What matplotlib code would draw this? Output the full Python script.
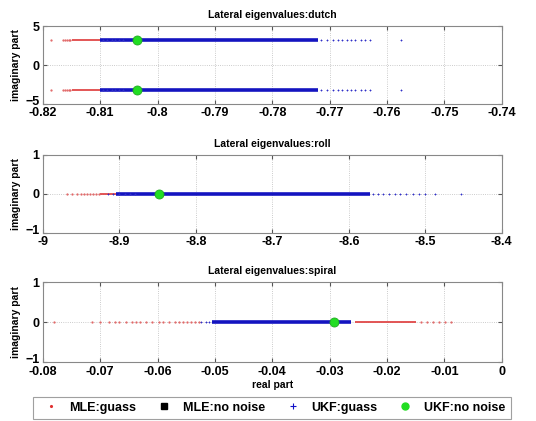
import matplotlib
matplotlib.use("Agg")
import matplotlib.pyplot as plt
import matplotlib.transforms as mtransforms

# ---------------- data ----------------
titles = ["Lateral eigenvalues:dutch", "Lateral eigenvalues:roll", "Lateral eigenvalues:spiral"]
xlims = [(-0.82, -0.74), (-9.0, -8.4), (-0.08, 0.0)]
xticks = [[-0.82, -0.81, -0.80, -0.79, -0.78, -0.77, -0.76, -0.75, -0.74],
          [-9.0, -8.9, -8.8, -8.7, -8.6, -8.5, -8.4],
          [-0.08, -0.07, -0.06, -0.05, -0.04, -0.03, -0.02, -0.01, 0.0]]
xticklabels = [["-0.82", "-0.81", "-0.8", "-0.79", "-0.78", "-0.77", "-0.76", "-0.75", "-0.74"],
               ["-9", "-8.9", "-8.8", "-8.7", "-8.6", "-8.5", "-8.4"],
               ["-0.08", "-0.07", "-0.06", "-0.05", "-0.04", "-0.03", "-0.02", "-0.01", "0"]]
ylims = [(-5, 5), (-1, 1), (-1, 1)]
yticks = [[-5, 0, 5], [-1, 0, 1], [-1, 0, 1]]

# imaginary parts of each mode
imag_parts = [[3.2, -3.2], [0.0], [0.0]]

# MLE:guass  - dense band (start, end) and sparse points (real part)
mle_band = [(-0.8150, -0.8100), (-8.925, -8.905), (-0.0255, -0.0150)]
mle_sparse = [
    [-0.8185, -0.8165, -0.8162, -0.8158, -0.8154, -0.8152],
    [-8.968, -8.962, -8.955, -8.950, -8.946, -8.942, -8.938, -8.934, -8.930, -8.927],
    [-0.0780, -0.0715, -0.0700, -0.0685, -0.0675, -0.0668, -0.0655, -0.0645, -0.0638,
     -0.0630, -0.0620, -0.0610, -0.0598, -0.0590, -0.0580, -0.0570, -0.0562, -0.0555,
     -0.0548, -0.0542, -0.0535, -0.0528, -0.0140, -0.0130, -0.0120, -0.0110, -0.0098, -0.0088],
]
# UKF:guass - dense band (start, end) and sparse points (real part)
ukf_band = [(-0.8100, -0.7720), (-8.905, -8.572), (-0.0505, -0.0262)]
ukf_sparse = [
    [-0.8095, -0.8088, -0.8080, -0.8075, -0.8068, -0.8060, -0.7715, -0.7705, -0.7695,
     -0.7685, -0.7678, -0.7670, -0.7662, -0.7655, -0.7645, -0.7638, -0.7630, -0.7575],
    [-8.915, -8.908, -8.900, -8.893, -8.886, -8.880, -8.568, -8.562, -8.555, -8.548,
     -8.540, -8.533, -8.525, -8.516, -8.508, -8.500, -8.487, -8.453],
    [-0.0525, -0.0515, -0.0510],
]
# UKF:no noise (true values) and MLE:no noise
ukf_nonoise = [-0.8036, -8.848, -0.0292]
mle_nonoise = [-0.8036, -8.848, -0.0292]

legend_labels = ['MLE:guass', 'MLE:no noise', 'UKF:guass', 'UKF:no noise']

# ---------------- figure ----------------
plt.rcParams['font.family'] = ['Liberation Sans', 'DejaVu Sans']
plt.rcParams['font.weight'] = 'bold'
fig = plt.figure(figsize=(5.36, 4.21), dpi=100)

positions = [
    [0.080, 0.753, 0.856, 0.185],
    [0.080, 0.447, 0.856, 0.185],
    [0.080, 0.140, 0.856, 0.190],
]

for i in range(3):
    ax = fig.add_axes(positions[i])
    for yv in imag_parts[i]:
        # dense bands
        ax.plot(list(mle_band[i]), [yv, yv], color='#e04848', lw=1.3, solid_capstyle='butt', zorder=2)
        ax.plot(list(ukf_band[i]), [yv, yv], color='#1414c0', lw=2.6, solid_capstyle='butt', zorder=3)
        # sparse points
        ax.plot(mle_sparse[i], [yv] * len(mle_sparse[i]), ls='none', marker='.',
                ms=1.2, color='#e06060', zorder=2)
        ax.plot(ukf_sparse[i], [yv] * len(ukf_sparse[i]), ls='none', marker='+',
                ms=1.8, mew=0.6, color='#3030c8', zorder=3)
        ax.plot([mle_nonoise[i]], [yv], ls='none', marker='s', ms=3,
                color='black', zorder=4)
        ax.plot([ukf_nonoise[i]], [yv], ls='none', marker='o', ms=6.5,
                mfc='#22dd22', mec='#22aa22', mew=0.6, zorder=5)
    ax.set_xlim(*xlims[i])
    ax.set_ylim(*ylims[i])
    ax.set_xticks(xticks[i])
    ax.set_xticklabels(xticklabels[i])
    ax.set_yticks(yticks[i])
    ax.tick_params(axis='both', direction='in', length=3, labelsize=9,
                   top=True, right=True, color='#555555')
    ax.tick_params(axis='x', pad=2.5)
    ax.tick_params(axis='y', pad=2.5)
    for lab in ax.get_xticklabels() + ax.get_yticklabels():
        lab.set_fontweight('bold')
    # lift the lowest y tick label slightly so it sits just above the x labels
    low = ax.get_yticklabels()[0]
    low.set_transform(low.get_transform() +
                      mtransforms.ScaledTranslation(0, 2.5 / 72, fig.dpi_scale_trans))
    ax.grid(True, ls=':', lw=0.6, color='#bbbbbb')
    for sp in ax.spines.values():
        sp.set_color('#888888')
        sp.set_linewidth(0.8)
    ax.set_title(titles[i], fontsize=7.5, fontweight='bold', pad=5.5)
    ax.set_ylabel('imaginary part', fontsize=7.5, fontweight='bold', labelpad=3)
    if i == 2:
        ax.set_xlabel('real part', fontsize=7.5, fontweight='bold', labelpad=2)

leg_handles = [
    plt.Line2D([], [], ls='none', marker='.', ms=2.5, color='#e03030'),
    plt.Line2D([], [], ls='none', marker='s', ms=4, color='black'),
    plt.Line2D([], [], ls='none', marker='+', ms=5, mew=0.8, color='#1010c8'),
    plt.Line2D([], [], ls='none', marker='o', ms=5, mfc='#22dd22', mec='#22dd22'),
]
leg = fig.legend(leg_handles, legend_labels,
                 loc='center', bbox_to_anchor=(0.507, 0.032), ncol=4, fontsize=9,
                 frameon=True, fancybox=False, edgecolor='#888888', columnspacing=1.2,
                 handletextpad=0.52, borderpad=0.4, handlelength=2.0)
leg.get_frame().set_linewidth(0.8)
for t in leg.get_texts():
    t.set_fontweight('bold')

fig.savefig('out.png', dpi=100)
